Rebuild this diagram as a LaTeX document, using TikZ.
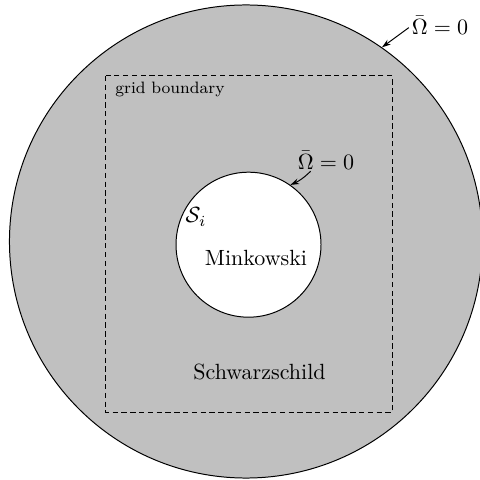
\documentclass[tikz,border=0pt]{standalone}
\usetikzlibrary{arrows.meta}
\definecolor{regiongray}{RGB}{192,192,192}
\begin{document}
\begin{tikzpicture}[x=0.4545pt,y=-0.4545pt,
  region/.style={circle,draw=black,line width=0.45pt,inner sep=0pt},
  lbl/.style={inner sep=0pt},
  pointer/.style={-{Stealth[length=4pt,width=2.6pt]},line width=0.45pt},
  gridbox/.style={draw=black,line width=0.45pt,dash pattern=on 2.4pt off 1.6pt}]
\useasboundingbox (0,0) rectangle (480,480);
\clip (0,0) rectangle (480,480);
\node[region,fill=regiongray,minimum size=215pt] (outer) at (246,241.5) {};
\draw[gridbox] (105.7,76) rectangle (392.3,412.3);
\node[region,fill=white,minimum size=65.9pt] (inner) at (248.5,244.7) {};
\node[lbl,anchor=west,font=\fontsize{7.5}{9}\selectfont] (grid) at (115,89) {grid boundary};
\node[lbl] (mink) at (256,258) {Minkowski};
\node[lbl] (schw) at (259.5,372) {Schwarzschild};
\node[lbl] (si) at (196,217) {$\mathcal{S}_i$};
\node[lbl] (outlbl) at (440,25) {$\bar{\Omega}=0$};
\node[lbl] (inlbl) at (326,160) {$\bar{\Omega}=0$};
\coordinate (outstart) at ([xshift=-1.2pt,yshift=-1.2pt]outlbl.west);
\coordinate (instart) at ([xshift=6pt,yshift=-0.8pt]inlbl.south west);
\draw[pointer] (outstart) -- (outer.55.7);
\draw[pointer] (instart) to[bend left=10] (inner.55.5);
\end{tikzpicture}
\end{document}
